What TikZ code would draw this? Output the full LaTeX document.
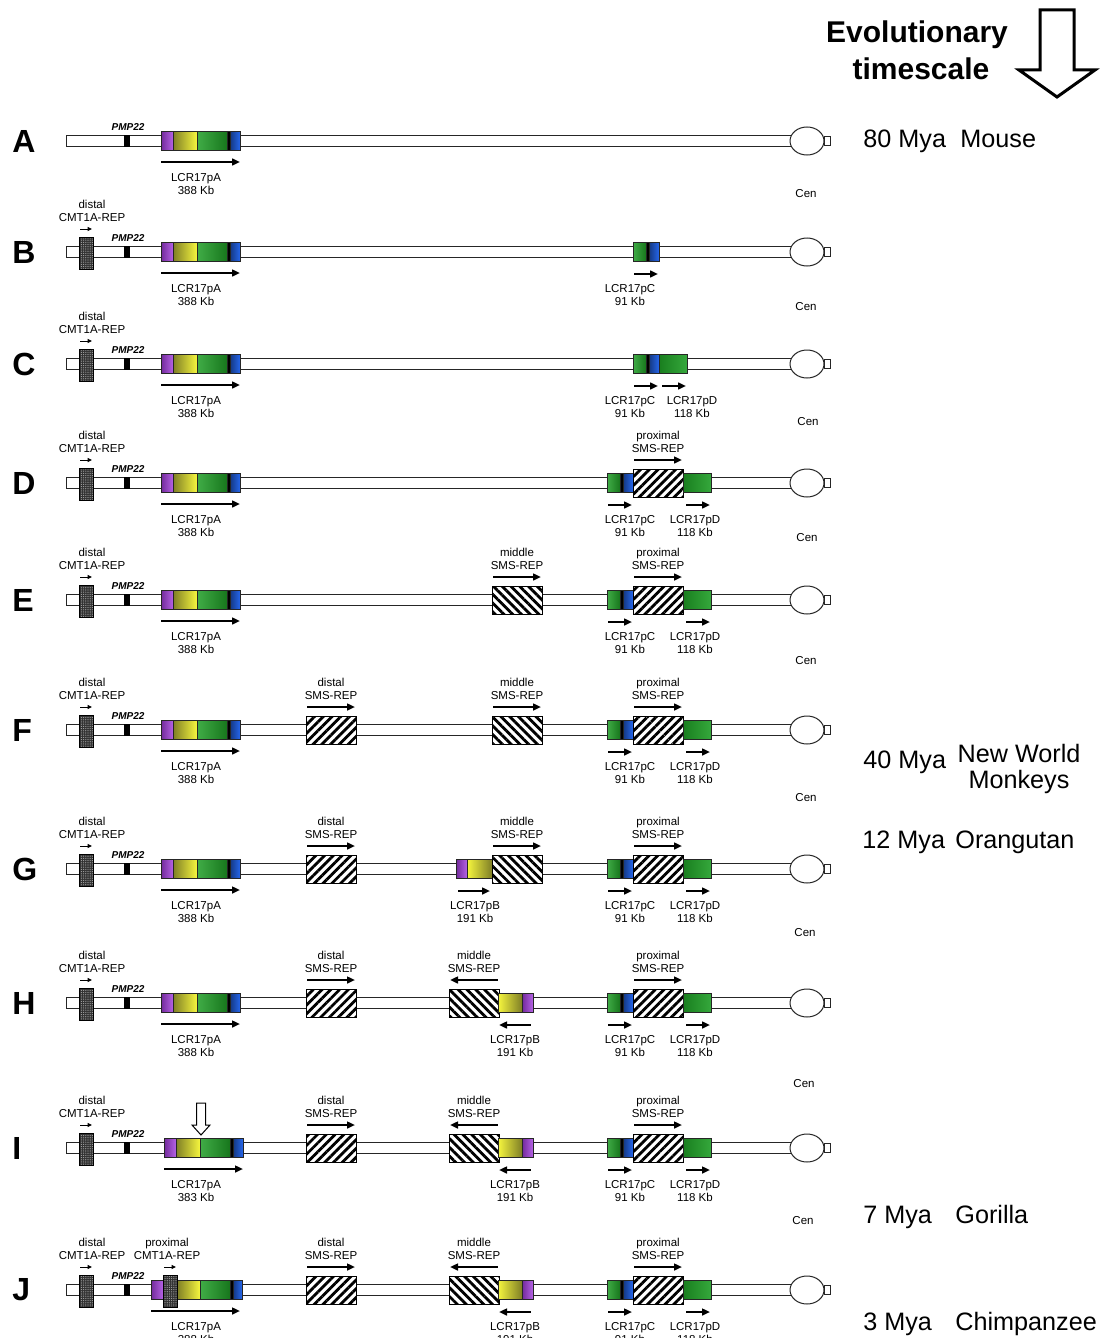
\documentclass[tikz,border=0pt]{standalone}
\usepackage{fontspec}
\setmainfont{Liberation Sans}
\usetikzlibrary{arrows.meta,patterns.meta}
\definecolor{lcrPurple}{HTML}{A23BDD}
\definecolor{lcrYellow}{HTML}{F6F63E}
\definecolor{lcrOlive}{HTML}{7E7E26}
\definecolor{lcrGreen}{HTML}{1F9E26}
\definecolor{lcrBlue}{HTML}{2566EC}
% chromosome arm: bar, centromere, PMP22, row letter
\newcommand{\chrom}[2]{%
  \draw[chrline] (66,#2-5.5) rectangle (800,#2+5.5);
  \draw[chrline] (807,#2) ellipse (8.5pt and 7pt);
  \draw[chrline] (824,#2-4.5) rectangle (830,#2+4.5);
  \fill (124,#2-6) rectangle (130,#2+6);
  \node[gene] (pmp#1) at (128,#2-14) {PMP22};
  \node[rowletter] (row#1) at (12,#2) {#1};}
\newcommand{\segm}[4]{\path[#1] (#2,#4-9.5) rectangle (#3,#4+9.5);}
\newcommand{\duo}[5]{%
  \node[lbl] (#1a) at (#2,#3) {#4};
  \node[lbl] (#1b) at (#2,#3+13) {#5};}
% CMT1A-REP: name, block x, label x, y, word
\newcommand{\cmtrep}[5]{%
  \path[stipple] (#2-7,#4-15) rectangle (#2+7,#4+17);
  \draw[tiny] (#2-6,#4-23) -- (#2+6,#4-23);
  \duo{#1}{#3}{#4-44}{#5}{CMT1A-REP}}
% LCR17pA: name, left x, y, size
\newcommand{\lcrA}[4]{%
  \segm{purp}{#2}{#2+12}{#3}
  \segm{yelup}{#2+12}{#2+36}{#3}
  \segm{grn}{#2+36}{#2+66}{#3}
  \segm{blk}{#2+66}{#2+69}{#3}
  \segm{blu}{#2+69}{#2+79}{#3}
  \draw[fwd] (#2,#3+21) -- (#2+79,#3+21);
  \duo{#1}{196}{#3+40}{LCR17pA}{#4 Kb}}
\newcommand{\lcrC}[3]{%
  \segm{grn}{#2}{#2+13}{#3}
  \segm{blk}{#2+13}{#2+16}{#3}
  \segm{blu}{#2+16}{#2+26}{#3}
  \draw[fwd] (#2+1,#3+22) -- (#2+25,#3+22);
  \duo{#1}{630}{#3+40}{LCR17pC}{91 Kb}}
\newcommand{\lcrD}[4]{%
  \segm{grnD}{#2}{#2+28}{#3}
  \draw[fwd] (#2+3,#3+22) -- (#2+27,#3+22);
  \duo{#1}{#4}{#3+40}{LCR17pD}{118 Kb}}
\newcommand{\lcrBr}[2]{%
  \segm{purp}{456}{467}{#2}
  \segm{yeldn}{467}{492}{#2}
  \draw[fwd] (458,#2+22) -- (490,#2+22);
  \duo{#1}{475}{#2+40}{LCR17pB}{191 Kb}}
\newcommand{\lcrBl}[2]{%
  \segm{yeldn}{498}{522}{#2}
  \segm{purp}{522}{533}{#2}
  \draw[bwd] (499,#2+22) -- (531,#2+22);
  \duo{#1}{515}{#2+40}{LCR17pB}{191 Kb}}
% SMS-REP: name, left x, y, word, hatch, arrow
\newcommand{\sms}[6]{%
  \path[#5] (#2,#3-14) rectangle (#2+50,#3+14);
  \draw[#6] (#2+1,#3-23) -- (#2+49,#3-23);
  \duo{#1}{#2+25}{#3-44}{#4}{SMS-REP}}

\begin{document}
\begin{tikzpicture}[x=0.5pt,y=-0.5pt,
    chrline/.style={draw=black!85,fill=white,line width=0.5pt},
    seg/.style={draw=black!85,line width=0.4pt},
    purp/.style={seg,left color=lcrPurple!70!black,right color=lcrPurple!80!white},
    yelup/.style={seg,left color=lcrOlive,right color=lcrYellow},
    yeldn/.style={seg,left color=lcrYellow,right color=lcrOlive},
    grn/.style={seg,left color=lcrGreen!85!white,right color=lcrGreen!75!black},
    grnD/.style={seg,left color=lcrGreen!80!black,right color=lcrGreen!90!white},
    blk/.style={seg,fill=black},
    blu/.style={seg,left color=lcrBlue!55!black,right color=lcrBlue},
    hatchNE/.style={draw=black,line width=0.5pt,preaction={fill=white},
      pattern={Lines[angle=45,distance=3.1pt,line width=1.4pt]}},
    hatchNW/.style={draw=black,line width=0.5pt,preaction={fill=white},
      pattern={Lines[angle=-45,distance=3.1pt,line width=1.4pt]}},
    stipple/.style={draw=black,line width=0.4pt,preaction={fill=black!80},
      pattern={Dots[radius=0.3pt,distance=1.1pt]},pattern color=black!35},
    fwd/.style={line width=1pt,-{Triangle[length=4pt,width=3.4pt]}},
    bwd/.style={line width=1pt,{Triangle[length=4pt,width=3.4pt]}-},
    tiny/.style={line width=0.5pt,-{Triangle[length=2.2pt,width=2pt]}},
    lbl/.style={font=\fontsize{5.75}{7}\selectfont,inner sep=0pt,anchor=base},
    gene/.style={font=\fontsize{5}{6}\selectfont\bfseries\itshape,inner sep=0pt},
    rowletter/.style={font=\fontsize{16}{18}\selectfont\bfseries,inner sep=0pt,anchor=west},
    era/.style={font=\fontsize{12.6}{14}\selectfont,inner sep=0pt,anchor=base west},
    title/.style={font=\fontsize{15}{17}\selectfont\bfseries,inner sep=0pt,anchor=base}]
  \useasboundingbox (0,0) rectangle (1102,1338);
  \clip (0,0) rectangle (1102,1338);
  \fill[white] (0,0) rectangle (1102,1338);

  % timescale
  \node[title] (evo) at (917,43) {Evolutionary};
  \node[title] (tscale) at (921,80) {timescale};
  \draw[line width=1.5pt,miter limit=10] (1040,10) -- (1074,10) -- (1074,70) -- (1095,70)
    -- (1057,97) -- (1019,70) -- (1040,70) -- cycle;

  % A
  \chrom{A}{141}
  \lcrA{pA1}{161}{141}{388}
  \node[lbl] (cenA) at (806,198) {Cen};

  % B
  \chrom{B}{252}
  \cmtrep{dB}{86}{92}{252}{distal}
  \lcrA{pA2}{161}{252}{388}
  \lcrC{pC2}{633}{252}
  \node[lbl] (cenB) at (806,310) {Cen};

  % C
  \chrom{C}{364}
  \cmtrep{dC}{86}{92}{364}{distal}
  \lcrA{pA3}{161}{364}{388}
  \lcrC{pC3}{633}{364}
  \lcrD{pD3}{659}{364}{692}
  \node[lbl] (cenC) at (808,425) {Cen};

  % D
  \chrom{D}{483}
  \cmtrep{dD}{86}{92}{483}{distal}
  \lcrA{pA4}{161}{483}{388}
  \lcrC{pC4}{607}{483}
  \sms{pS4}{633}{483}{proximal}{hatchNE}{fwd}
  \lcrD{pD4}{683}{483}{695}
  \node[lbl] (cenD) at (807,541) {Cen};

  % E
  \chrom{E}{600}
  \cmtrep{dE}{86}{92}{600}{distal}
  \lcrA{pA5}{161}{600}{388}
  \sms{mS5}{492}{600}{middle}{hatchNW}{fwd}
  \lcrC{pC5}{607}{600}
  \sms{pS5}{633}{600}{proximal}{hatchNE}{fwd}
  \lcrD{pD5}{683}{600}{695}
  \node[lbl] (cenE) at (806,664) {Cen};

  % F
  \chrom{F}{730}
  \cmtrep{dF}{86}{92}{730}{distal}
  \lcrA{pA6}{161}{730}{388}
  \sms{dS6}{306}{730}{distal}{hatchNE}{fwd}
  \sms{mS6}{492}{730}{middle}{hatchNW}{fwd}
  \lcrC{pC6}{607}{730}
  \sms{pS6}{633}{730}{proximal}{hatchNE}{fwd}
  \lcrD{pD6}{683}{730}{695}
  \node[lbl] (cenF) at (806,801) {Cen};

  % G
  \chrom{G}{869}
  \cmtrep{dG}{86}{92}{869}{distal}
  \lcrA{pA7}{161}{869}{388}
  \sms{dS7}{306}{869}{distal}{hatchNE}{fwd}
  \lcrBr{pB7}{869}
  \sms{mS7}{492}{869}{middle}{hatchNW}{fwd}
  \lcrC{pC7}{607}{869}
  \sms{pS7}{633}{869}{proximal}{hatchNE}{fwd}
  \lcrD{pD7}{683}{869}{695}
  \node[lbl] (cenG) at (805,936) {Cen};

  % H
  \chrom{H}{1003}
  \cmtrep{dH}{86}{92}{1003}{distal}
  \lcrA{pA8}{161}{1003}{388}
  \sms{dS8}{306}{1003}{distal}{hatchNE}{fwd}
  \sms{mS8}{449}{1003}{middle}{hatchNW}{bwd}
  \lcrBl{pB8}{1003}
  \lcrC{pC8}{607}{1003}
  \sms{pS8}{633}{1003}{proximal}{hatchNE}{fwd}
  \lcrD{pD8}{683}{1003}{695}
  \node[lbl] (cenH) at (804,1087) {Cen};

  % I
  \chrom{I}{1148}
  \cmtrep{dI}{86}{92}{1148}{distal}
  \lcrA{pA9}{164}{1148}{383}
  \draw[line width=0.5pt,fill=white] (196.5,1103) -- (205.5,1103) -- (205.5,1125) -- (210,1125)
    -- (201,1135) -- (192,1125) -- (196.5,1125) -- cycle;
  \sms{dS9}{306}{1148}{distal}{hatchNE}{fwd}
  \sms{mS9}{449}{1148}{middle}{hatchNW}{bwd}
  \lcrBl{pB9}{1148}
  \lcrC{pC9}{607}{1148}
  \sms{pS9}{633}{1148}{proximal}{hatchNE}{fwd}
  \lcrD{pD9}{683}{1148}{695}
  \node[lbl] (cenI) at (803,1224) {Cen};

  % J
  \chrom{J}{1290}
  \cmtrep{dJ}{86}{92}{1290}{distal}
  \segm{purp}{151}{163}{1290}
  \segm{yelup}{177}{200}{1290}
  \segm{grn}{200}{230}{1290}
  \segm{blk}{230}{233}{1290}
  \segm{blu}{233}{242}{1290}
  \cmtrep{prJ}{170}{167}{1290}{proximal}
  \draw[fwd] (151,1311) -- (240,1311);
  \duo{pA10}{196}{1330}{LCR17pA}{388 Kb}
  \sms{dS10}{306}{1290}{distal}{hatchNE}{fwd}
  \sms{mS10}{449}{1290}{middle}{hatchNW}{bwd}
  \lcrBl{pB10}{1290}
  \lcrC{pC10}{607}{1290}
  \sms{pS10}{633}{1290}{proximal}{hatchNE}{fwd}
  \lcrD{pD10}{683}{1290}{695}

  % ages and species
  \node[era] (t80) at (863,148) {80 Mya};
  \node[era] (mouse) at (960,148) {Mouse};
  \node[era] (t40) at (863,768) {40 Mya};
  \node[era,anchor=base] (nwm) at (1019,762) {New World};
  \node[era,anchor=base] (nwm2) at (1019,788) {Monkeys};
  \node[era] (t12) at (862,848) {12 Mya};
  \node[era] (orang) at (955,848) {Orangutan};
  \node[era] (t7) at (863,1223) {7 Mya};
  \node[era] (gor) at (955,1223) {Gorilla};
  \node[era] (t3) at (863,1330) {3 Mya};
  \node[era] (chimp) at (955,1330) {Chimpanzee};
\end{tikzpicture}
\end{document}
